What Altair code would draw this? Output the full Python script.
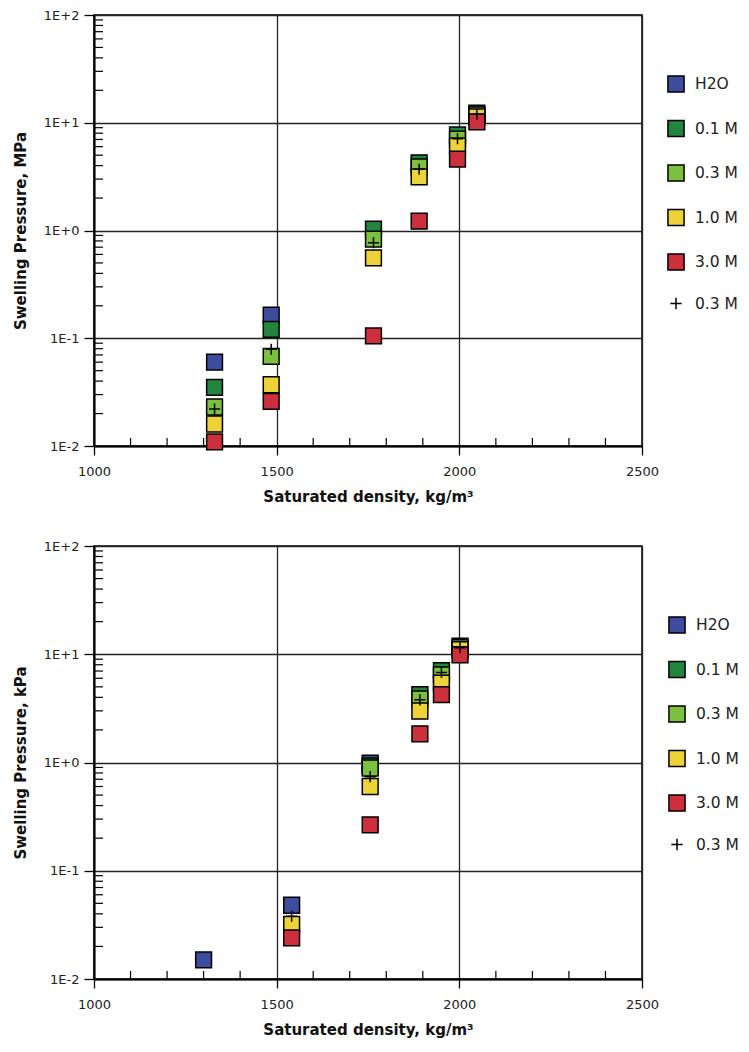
import altair as alt
import pandas as pd

# ---------------- data ----------------
series_names = ["H2O", "0.1 M", "0.3 M", "1.0 M", "3.0 M", "0.3 M+"]
series_colors = ["#3E4C9E", "#22843D", "#7DC03F", "#EDD338", "#CD2F3D", "#000000"]
plus_path = "M-0.7,0L0.7,0M0,-0.7L0,0.7"
series_shapes = ["square", "square", "square", "square", "square", plus_path]

# Top panel (MPa)
top_h2o_x = [1330, 1485]
top_h2o_y = [0.060, 0.164]
top_01_x = [1330, 1485, 1765, 1890, 1995, 2048]
top_01_y = [0.035, 0.121, 1.03, 4.25, 7.7, 12.3]
top_03_x = [1330, 1485, 1765, 1890, 1995, 2048]
top_03_y = [0.023, 0.068, 0.83, 3.9, 7.05, 11.8]
top_10_x = [1330, 1485, 1765, 1890, 1995, 2048]
top_10_y = [0.0160, 0.037, 0.556, 3.15, 6.1, 11.3]
top_30_x = [1330, 1485, 1765, 1890, 1995, 2048]
top_30_y = [0.0109, 0.026, 0.105, 1.22, 4.6, 10.2]
top_plus_x = [1330, 1485, 1765, 1890, 1995, 2048]
top_plus_y = [0.022, 0.079, 0.77, 3.7, 7.1, 12.0]

# Bottom panel (kPa)
bot_h2o_x = [1300, 1541, 1756]
bot_h2o_y = [0.015, 0.048, 0.985]
bot_01_x = [1756, 1892, 1951, 2002]
bot_01_y = [0.93, 4.24, 7.06, 11.9]
bot_03_x = [1756, 1892, 1951, 2002]
bot_03_y = [0.89, 3.86, 6.44, 11.5]
bot_10_x = [1541, 1756, 1892, 1951, 2002]
bot_10_y = [0.032, 0.60, 2.99, 5.4, 11.0]
bot_30_x = [1541, 1756, 1892, 1951, 2002]
bot_30_y = [0.024, 0.265, 1.84, 4.24, 9.9]
bot_plus_x = [1541, 1756, 1892, 1951, 2002]
bot_plus_y = [0.038, 0.74, 3.79, 6.8, 11.5]

y_major = [0.01, 0.1, 1, 10, 100]
y_minor = [m * d for d in [0.01, 0.1, 1, 10] for m in range(2, 10)]
x_major = [1000, 1500, 2000, 2500]
x_minor = [1100, 1200, 1300, 1400, 1600, 1700, 1800, 1900, 2100, 2200, 2300, 2400]


def build_df(groups):
    rows = []
    for z, (name, xs, ys) in enumerate(groups):
        for xv, yv in zip(xs, ys):
            rows.append({"density": xv, "pressure": yv, "series": name, "z": z})
    return pd.DataFrame(rows)


top_df = build_df([
    ("H2O", top_h2o_x, top_h2o_y),
    ("0.1 M", top_01_x, top_01_y),
    ("0.3 M", top_03_x, top_03_y),
    ("1.0 M", top_10_x, top_10_y),
    ("3.0 M", top_30_x, top_30_y),
    ("0.3 M+", top_plus_x, top_plus_y),
])
bot_df = build_df([
    ("H2O", bot_h2o_x, bot_h2o_y),
    ("0.1 M", bot_01_x, bot_01_y),
    ("0.3 M", bot_03_x, bot_03_y),
    ("1.0 M", bot_10_x, bot_10_y),
    ("3.0 M", bot_30_x, bot_30_y),
    ("0.3 M+", bot_plus_x, bot_plus_y),
])

W = 548
FONT = "DejaVu Sans"


def panel(df, unit, legend_x, legend_y, H):
    xaxis = alt.Axis(
        values=x_major, grid=True, title="Saturated density, kg/m³",
        tickSize=9, labelPadding=10, titlePadding=11, format="d", labelFlush=False,
    )
    yaxis = alt.Axis(
        values=y_major, grid=True, title=f"Swelling Pressure, {unit}",
        tickSize=10, labelPadding=5, titlePadding=15, labelFlush=False,
        labelExpr="datum.value >= 1 ? '1E+' + round(log(datum.value)/LN10) : '1E' + round(log(datum.value)/LN10)",
    )
    x = alt.X("density:Q", scale=alt.Scale(domain=[1000, 2500], nice=False, zero=False), axis=xaxis)
    y = alt.Y("pressure:Q", scale=alt.Scale(type="log", domain=[0.01, 100], nice=False), axis=yaxis)
    leg = alt.Legend(
        title=None, orient="none", legendX=legend_x, legendY=legend_y, padding=0,
        symbolSize=260, symbolStrokeColor="black", symbolStrokeWidth=1.5,
        labelFont=FONT, labelFontSize=15.5, labelColor="#222", labelOffset=10,
        rowPadding=20.5,
        labelExpr="datum.label == '0.3 M+' ? '0.3 M' : datum.label",
    )
    points = alt.Chart(df).mark_point(
        filled=True, stroke="black", strokeWidth=1.5, opacity=1, size=250
    ).encode(
        x=x, y=y,
        color=alt.Color("series:N", scale=alt.Scale(domain=series_names, range=series_colors), legend=leg),
        shape=alt.Shape("series:N", scale=alt.Scale(domain=series_names, range=series_shapes), legend=leg),
        order=alt.Order("z:Q"),
    )
    yminor = alt.Chart(pd.DataFrame({"pressure": y_minor})).mark_rule(
        color="black", strokeWidth=1.2
    ).encode(y=y, x=alt.value(0), x2=alt.value(9))
    xminor = alt.Chart(pd.DataFrame({"density": x_minor})).mark_rule(
        color="black", strokeWidth=1.2
    ).encode(x=x, y=alt.value(H), y2=alt.value(H - 8))
    return alt.layer(xminor, yminor, points).properties(width=W, height=H)


top = panel(top_df, "MPa", 573, 60, 431)
bottom = panel(bot_df, "kPa", 574, 70, 433)

chart = alt.vconcat(top, bottom, spacing=34).resolve_legend(
    color="independent", shape="independent"
).configure_view(
    stroke="black", strokeWidth=1.5
).configure_axis(
    labelFont=FONT, labelFontSize=13, labelColor="#222",
    titleFont=FONT, titleFontSize=15, titleFontWeight="bold", titleColor="#111",
    domainColor="black", domainWidth=2, tickColor="black", tickWidth=1.3,
    gridColor="#222", gridWidth=1.3, gridOpacity=1,
).properties(
    padding={"left": 4, "top": 0, "right": 0, "bottom": 0}
)

chart.save("out.html", embed_options={"renderer": "svg", "actions": False})
